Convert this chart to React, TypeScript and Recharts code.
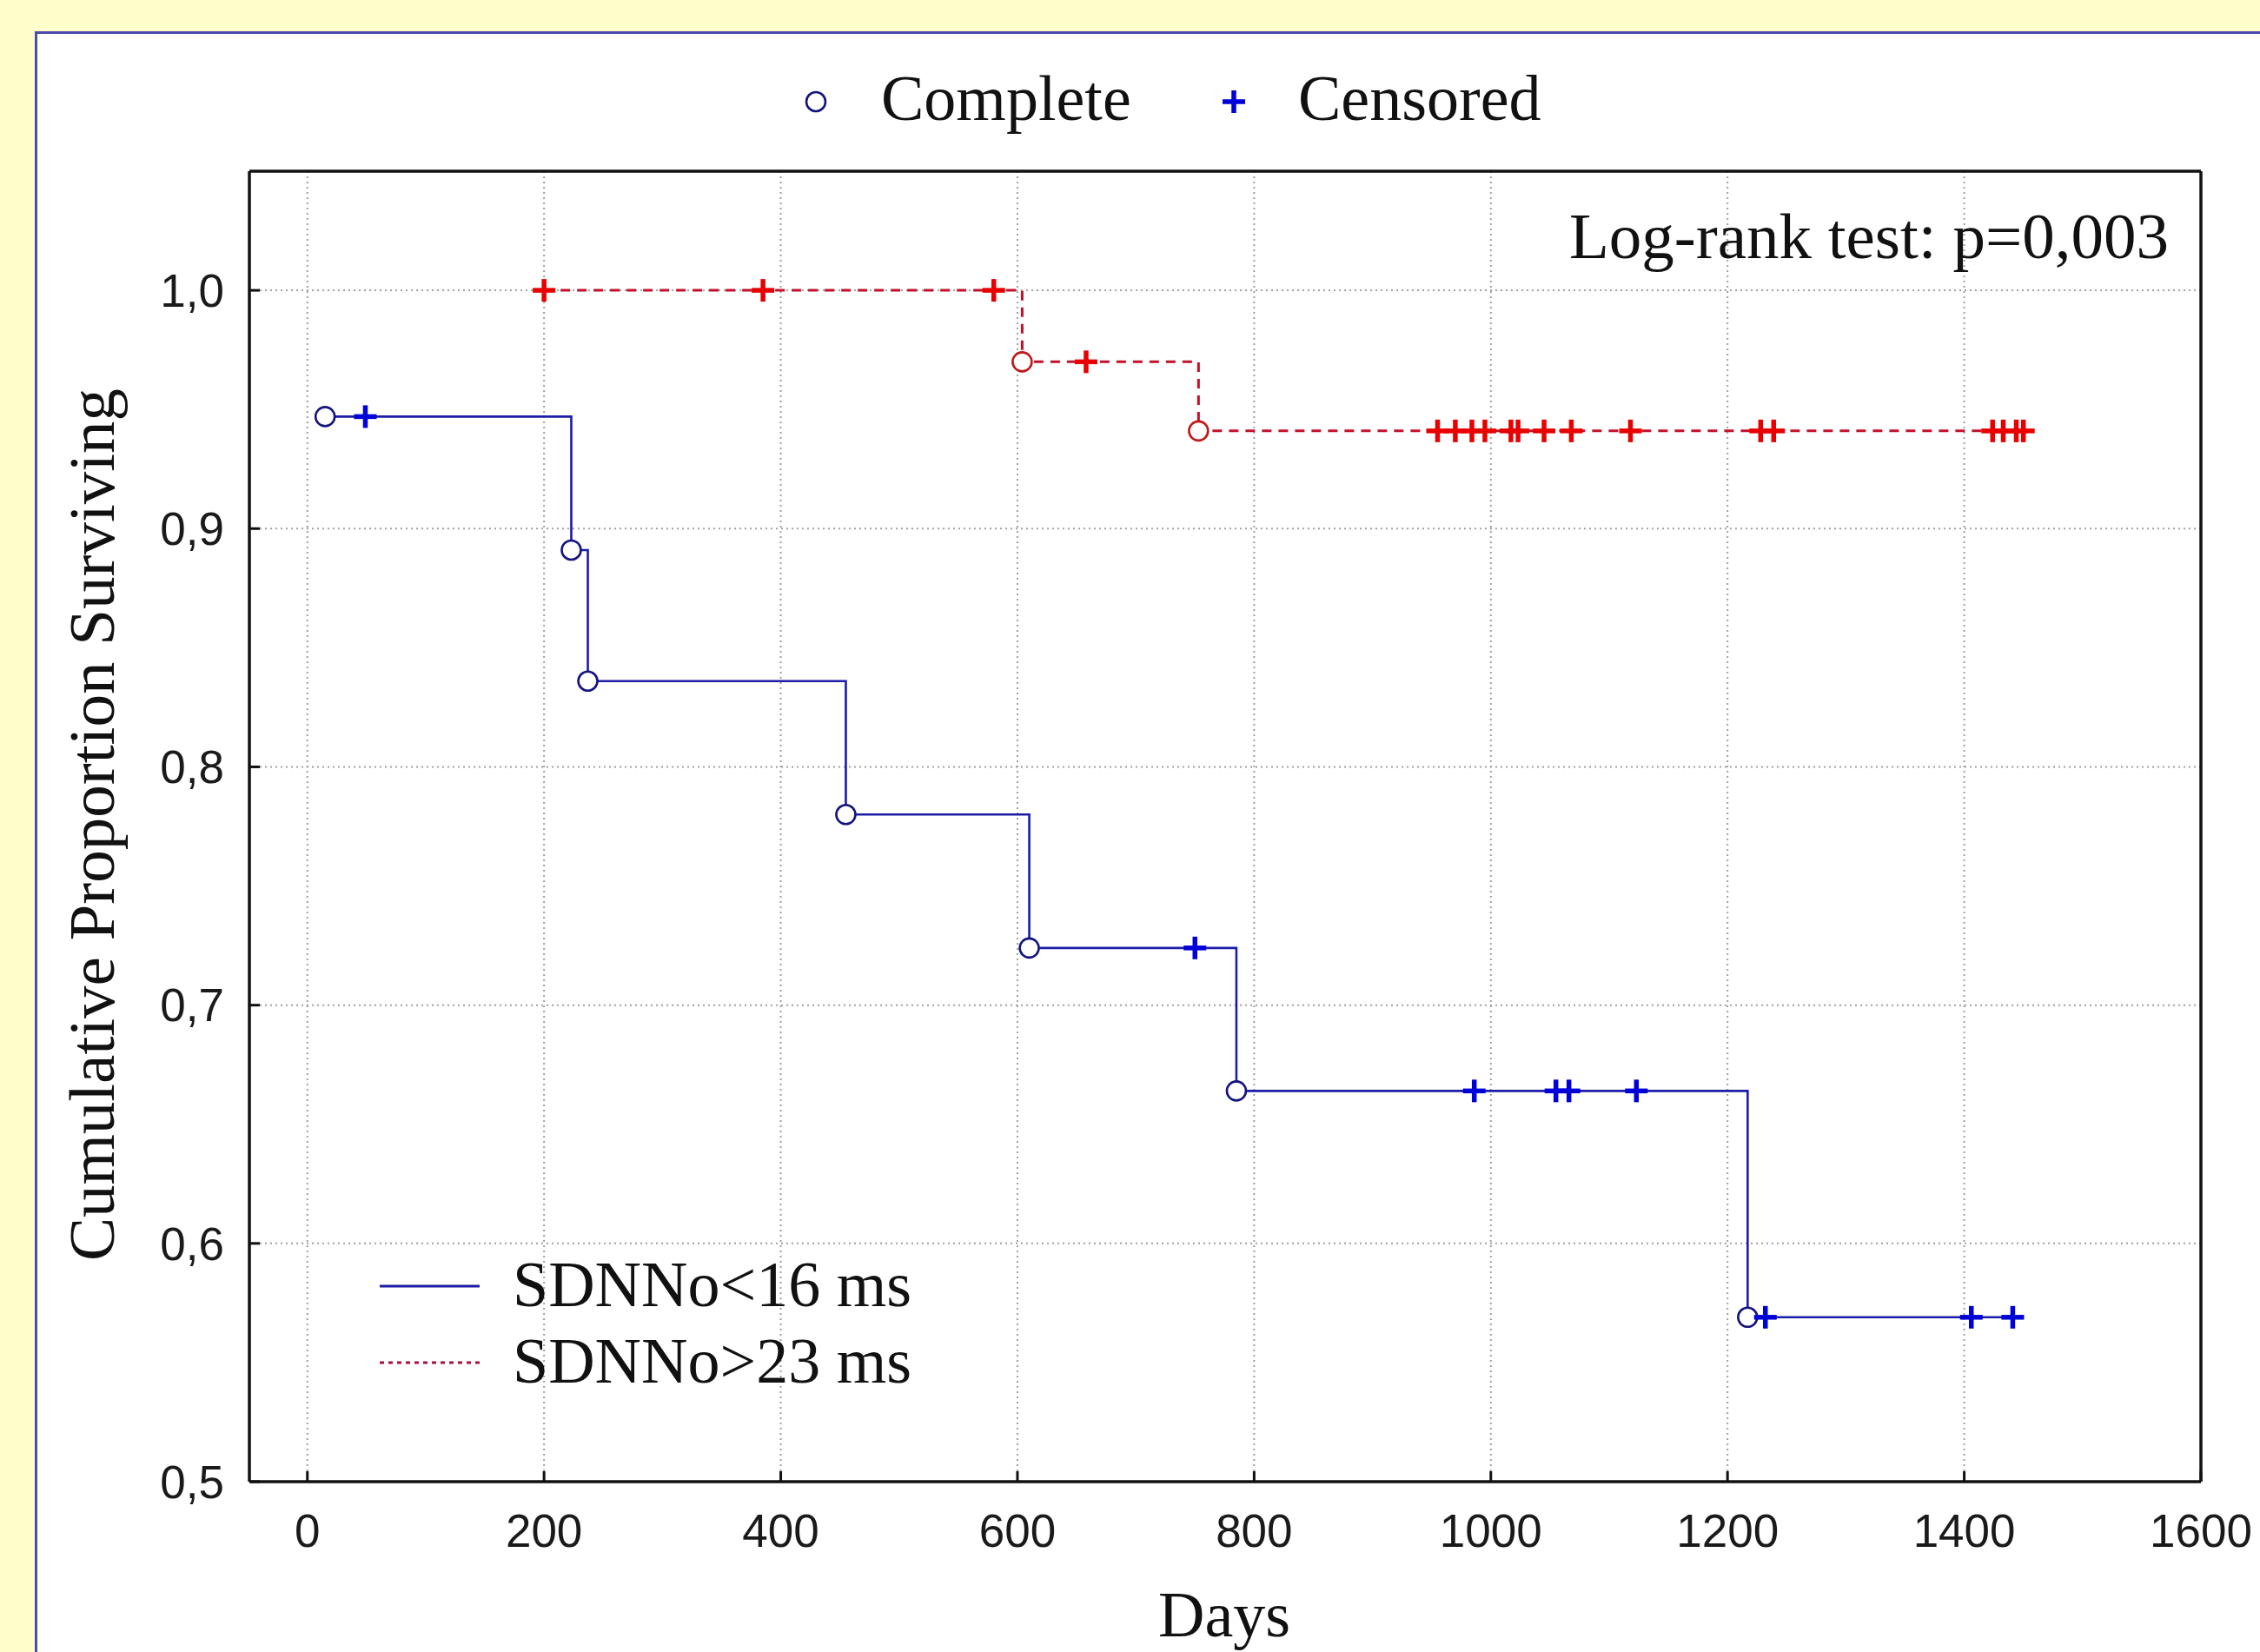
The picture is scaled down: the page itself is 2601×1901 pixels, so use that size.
import React from "react";
import { ComposedChart, Line, Scatter, XAxis, YAxis, CartesianGrid } from "recharts";

const xTicks = [0, 200, 400, 600, 800, 1000, 1200, 1400, 1600];
const yTicks = [0.5, 0.6, 0.7, 0.8, 0.9, 1.0];

// SDNNo<16 ms
const lowStepDays = [15, 223, 237, 455, 610, 785, 1217, 1441];
const lowStepSurv = [0.947, 0.891, 0.836, 0.78, 0.724, 0.664, 0.569, 0.569];
const lowCompleteDays = [15, 223, 237, 455, 610, 785, 1217];
const lowCompleteSurv = [0.947, 0.891, 0.836, 0.78, 0.724, 0.664, 0.569];
const lowCensoredDays = [49, 750, 986, 1055, 1066, 1123, 1232, 1406, 1441];
const lowCensoredSurv = [0.947, 0.724, 0.664, 0.664, 0.664, 0.664, 0.569, 0.569, 0.569];

// SDNNo>23 ms
const highStepDays = [200, 604, 753, 1452];
const highStepSurv = [1.0, 0.97, 0.941, 0.941];
const highCompleteDays = [604, 753];
const highCompleteSurv = [0.97, 0.941];
const highCensoredDays = [
  200, 385, 580, 658, 955, 970, 984, 995, 1017, 1023, 1045, 1068, 1118, 1228, 1239, 1424, 1433, 1444, 1450,
];
const highCensoredSurv = [
  1.0, 1.0, 1.0, 0.97, 0.941, 0.941, 0.941, 0.941, 0.941, 0.941, 0.941, 0.941, 0.941, 0.941, 0.941, 0.941,
  0.941, 0.941, 0.941,
];

const toPoints = (days: number[], surv: number[]) => days.map((d, i) => ({ x: d, y: surv[i] }));

const W = 2601;
const H = 1901;
const serif = "'Liberation Serif', 'Times New Roman', serif";
const sans = "'Liberation Sans', Arial, sans-serif";

const BLUE_LINE = "#1c1ca6";
const BLUE_MARK = "#0000d8";
const BLUE_RING = "#14147e";
const RED_LINE = "#c4102c";
const RED_MARK = "#e80000";
const RED_RING = "#c01818";

const Ring = ({ cx, cy, color }: any) => (
  <circle cx={cx} cy={cy} r={11} fill="#ffffff" stroke={color} strokeWidth={2.6} />
);

const Plus = ({ cx, cy, color }: any) => (
  <g stroke={color} strokeWidth={5.5}>
    <line x1={cx - 13} y1={cy} x2={cx + 13} y2={cy} />
    <line x1={cx} y1={cy - 13} x2={cx} y2={cy + 13} />
  </g>
);

const fmt = (v: number) => v.toFixed(1).replace(".", ",");

const App = () => {
  const axisLine = { stroke: "#111111", strokeWidth: 3.5 };
  const tickLine = { stroke: "#111111", strokeWidth: 3 };
  const tickStyle = { fill: "#1a1a1a", fontSize: 53, fontFamily: sans };

  return (
    <div style={{ position: "absolute", left: 0, top: 0, width: W, height: H, background: "#ffffcc", overflow: "hidden" }}>
      <div
        style={{
          position: "absolute",
          left: 40,
          top: 36,
          width: W,
          height: H,
          background: "#ffffff",
          borderLeft: "3px solid #4a4ab0",
          borderTop: "3px solid #4a4ab0",
        }}
      />
      <div style={{ position: "absolute", left: 0, top: 0 }}>
        <ComposedChart width={W} height={H} margin={{ top: 177, right: 48, bottom: 96, left: 187 }}>
          <CartesianGrid
            stroke="#a0a0a0"
            strokeWidth={2}
            strokeDasharray="2 4"
            horizontalValues={yTicks}
            verticalValues={xTicks}
          />
          <XAxis
            dataKey="x"
            type="number"
            domain={[-49, 1600]}
            ticks={xTicks}
            interval={0}
            allowDataOverflow
            height={100}
            axisLine={axisLine}
            tickLine={tickLine}
            tickSize={-12}
            tickMargin={49}
            tick={tickStyle}
          />
          <XAxis
            xAxisId="top"
            orientation="top"
            type="number"
            domain={[-49, 1600]}
            ticks={xTicks}
            interval={0}
            allowDataOverflow
            height={20}
            axisLine={axisLine}
            tickLine={tickLine}
            tickSize={-12}
            tick={false}
          />
          <YAxis
            dataKey="y"
            type="number"
            domain={[0.5, 1.05]}
            ticks={yTicks}
            interval={0}
            allowDataOverflow
            width={100}
            axisLine={axisLine}
            tickLine={tickLine}
            tickSize={-12}
            tickMargin={41}
            tick={tickStyle}
            tickFormatter={fmt}
          />
          <YAxis
            yAxisId="right"
            orientation="right"
            type="number"
            domain={[0.5, 1.05]}
            ticks={yTicks}
            interval={0}
            allowDataOverflow
            width={20}
            axisLine={axisLine}
            tickLine={tickLine}
            tickSize={-12}
            tick={false}
          />

          <Line
            data={toPoints(highStepDays, highStepSurv)}
            dataKey="y"
            type="stepAfter"
            stroke={RED_LINE}
            strokeWidth={3}
            strokeDasharray="11 8"
            dot={false}
            activeDot={false}
            isAnimationActive={false}
          />
          <Scatter
            data={toPoints(highCompleteDays, highCompleteSurv)}
            dataKey="y"
            isAnimationActive={false}
            shape={(p: any) => <Ring cx={p.cx} cy={p.cy} color={RED_RING} />}
          />
          <Scatter
            data={toPoints(highCensoredDays, highCensoredSurv)}
            dataKey="y"
            isAnimationActive={false}
            shape={(p: any) => <Plus cx={p.cx} cy={p.cy} color={RED_MARK} />}
          />

          <Line
            data={toPoints(lowStepDays, lowStepSurv)}
            dataKey="y"
            type="stepAfter"
            stroke={BLUE_LINE}
            strokeWidth={2.6}
            dot={false}
            activeDot={false}
            isAnimationActive={false}
          />
          <Scatter
            data={toPoints(lowCompleteDays, lowCompleteSurv)}
            dataKey="y"
            isAnimationActive={false}
            shape={(p: any) => <Ring cx={p.cx} cy={p.cy} color={BLUE_RING} />}
          />
          <Scatter
            data={toPoints(lowCensoredDays, lowCensoredSurv)}
            dataKey="y"
            isAnimationActive={false}
            shape={(p: any) => <Plus cx={p.cx} cy={p.cy} color={BLUE_MARK} />}
          />
        </ComposedChart>
      </div>

      {/* titles, legends and annotation */}
      <svg width={W} height={H} style={{ position: "absolute", left: 0, top: 0, pointerEvents: "none" }}>
        <g fontFamily={serif} fill="#111111">
          <Ring cx={939} cy={117} color={BLUE_RING} />
          <text x={1014} y={138} fontSize={74}>Complete</text>
          <Plus cx={1420} cy={117} color={BLUE_MARK} />
          <text x={1494} y={138} fontSize={74}>Censored</text>

          <text x={2496} y={297} fontSize={75} textAnchor="end">Log-rank test: p=0,003</text>

          <text transform="translate(131, 949) rotate(-90)" fontSize={75} textAnchor="middle">
            Cumulative Proportion Surviving
          </text>
          <text x={1409} y={1883} fontSize={74} textAnchor="middle">Days</text>

          <line x1={437} y1={1480} x2={552} y2={1480} stroke={BLUE_LINE} strokeWidth={3} />
          <text x={590} y={1503} fontSize={74}>SDNNo&lt;16 ms</text>
          <line x1={437} y1={1568} x2={552} y2={1568} stroke="#a8103c" strokeWidth={3} strokeDasharray="5 5" />
          <text x={590} y={1591} fontSize={74}>SDNNo&gt;23 ms</text>
        </g>
      </svg>
    </div>
  );
};

export default App;
